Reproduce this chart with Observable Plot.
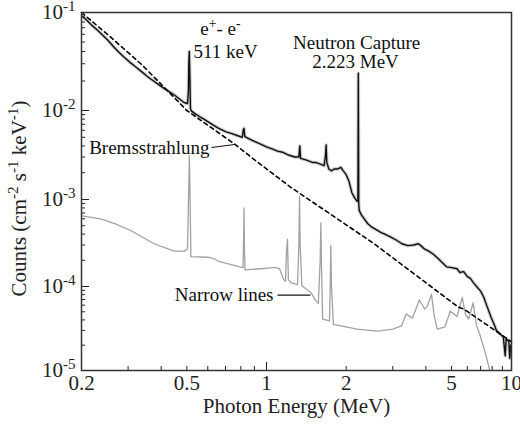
<!DOCTYPE html>
<html><head><meta charset="utf-8">
<script src="https://cdn.jsdelivr.net/npm/d3@7"></script>
<script src="https://cdn.jsdelivr.net/npm/@observablehq/plot@0.6"></script>
<style>
body{margin:0;background:#fff;}
#chart svg{display:block;}
#chart svg, #chart svg text {font-family: "Liberation Serif", "Times New Roman", "DejaVu Serif", serif !important;}
</style></head><body><div id="chart"></div>
<script>
// Observed spectrum (upper, black): [energy MeV, counts]
const observed = [
[0.2,0.093],[0.21,0.083],[0.22,0.073],[0.23,0.066],[0.24,0.059],[0.25,0.053],[0.264,0.045],[0.275,0.040],[0.29,0.035],[0.305,0.031],[0.32,0.028],[0.34,0.0245],[0.355,0.0222],[0.37,0.0205],[0.39,0.0185],[0.41,0.0168],[0.43,0.0155],[0.45,0.0143],[0.474,0.0128],[0.49,0.0120],[0.503,0.0118],[0.507,0.016],[0.509,0.032],[0.511,0.040],[0.513,0.024],[0.516,0.0105],[0.52,0.0099],[0.54,0.0091],[0.56,0.0085],[0.58,0.0080],[0.6,0.0075],[0.632,0.0068],[0.66,0.0063],[0.7,0.0058],[0.74,0.0055],[0.78,0.0052],[0.81,0.0050],[0.818,0.0061],[0.822,0.0063],[0.828,0.0051],[0.86,0.0048],[0.9,0.0045],[0.95,0.0042],[1.0,0.0039],[1.05,0.0037],[1.1,0.0035],[1.15,0.0034],[1.2,0.0032],[1.236,0.0031],[1.28,0.0030],[1.325,0.0030],[1.336,0.0040],[1.345,0.0029],[1.4,0.0028],[1.45,0.0027],[1.5,0.0026],[1.54,0.0026],[1.6,0.0025],[1.65,0.0024],[1.67,0.0031],[1.68,0.0041],[1.69,0.0026],[1.72,0.0022],[1.76,0.0021],[1.8,0.0022],[1.85,0.0022],[1.91,0.0023],[1.95,0.0021],[2.0,0.0019],[2.05,0.0016],[2.1,0.0012],[2.15,0.00105],[2.2,0.00095],[2.215,0.00098],[2.223,0.024],[2.231,0.0009],[2.24,0.00075],[2.28,0.00067],[2.34,0.0006],[2.41,0.00053],[2.5,0.00048],[2.6,0.00045],[2.7,0.00042],[2.8,0.00040],[2.95,0.00037],[3.1,0.00034],[3.25,0.00031],[3.42,0.000295],[3.6,0.0003],[3.75,0.00031],[3.83,0.000295],[3.95,0.00027],[4.1,0.000255],[4.27,0.000235],[4.45,0.00021],[4.6,0.00019],[4.8,0.000168],[5.0,0.000165],[5.33,0.00016],[5.5,0.000145],[5.76,0.000148],[6.0,0.00013],[6.2,0.000125],[6.45,0.00011],[6.68,0.0001],[7.0,8.8e-5],[7.25,7.5e-5],[7.5,6e-5],[7.9,4.3e-5],[8.2,3.5e-5],[8.4,3.0e-5],[8.8,2.7e-5],[9.1,2.5e-5],[9.3,1.5e-5],[9.4,2.4e-5],[9.7,2.2e-5],[9.8,1.4e-5],[9.9,2.0e-5]
];
// Narrow-line spectrum (lower, grey)
const narrowLines = [
[0.2,6.5e-4],[0.236,6.0e-4],[0.27,5.2e-4],[0.307,4.4e-4],[0.376,3.1e-4],[0.448,2.55e-4],[0.49,2.55e-4],[0.503,2.7e-4],[0.508,0.0012],[0.511,0.0031],[0.514,0.0012],[0.518,2.2e-4],[0.6,2.17e-4],[0.63,2.1e-4],[0.66,1.95e-4],[0.8,1.67e-4],[0.815,1.65e-4],[0.82,4e-4],[0.822,8e-4],[0.826,2.5e-4],[0.83,1.55e-4],[1.0,1.62e-4],[1.07,1.66e-4],[1.12,1.6e-4],[1.16,1.2e-4],[1.18,1.15e-4],[1.19,2.5e-4],[1.2,3.5e-4],[1.21,1.2e-4],[1.24,1.1e-4],[1.31,1.05e-4],[1.325,3e-4],[1.333,1.08e-3],[1.34,3e-4],[1.36,1.02e-4],[1.47,8.5e-5],[1.54,6.7e-5],[1.57,6.3e-5],[1.595,2e-4],[1.605,5.4e-4],[1.615,1.5e-4],[1.63,4.1e-5],[1.73,3.9e-5],[1.745,1.5e-4],[1.75,2.95e-4],[1.76,1e-4],[1.79,3.55e-5],[2.2,3.1e-5],[2.63,2.95e-5],[3.0,3.1e-5],[3.24,3.4e-5],[3.37,4.7e-5],[3.56,4.2e-5],[3.78,6.9e-5],[3.96,5.4e-5],[4.05,5.8e-5],[4.2,8.1e-5],[4.3,4.5e-5],[4.42,3.1e-5],[4.72,3.3e-5],[4.95,5.1e-5],[5.33,4.4e-5],[5.66,7.4e-5],[5.87,4.7e-5],[6.1,4.1e-5],[6.42,6.4e-5],[6.68,3.4e-5],[6.93,2.7e-5],[7.4,1.6e-5],[7.78,1.0e-5],[7.95,7e-6]
];
// Bremsstrahlung model (dashed)
const bremsstrahlung = [
[0.2,0.1],[0.258,0.056],[0.335,0.030],[0.422,0.016],[0.5,0.0100],[0.755,0.00423],[0.925,0.00263],[1.236,0.00137],[2.55,0.00031],[5.4,5.7e-5],[5.76,5.4e-5],[10,2.2e-5]
];
const xLabelTicks = [0.2, 0.5, 1, 2, 5, 10];
const xMinorTicks = [0.3, 0.4, 0.5, 0.6, 0.7, 0.8, 0.9, 2, 3, 4, 5, 6, 7, 8, 9];
const xMajorTicks = [1];
const yDecades = [1e-5, 1e-4, 1e-3, 1e-2, 1e-1];
const yMinorTicks = yDecades.slice(0, 4).flatMap(d => [2,3,4,5,6,7,8,9].map(k => k * d));
const peakLabels = [
  {x: 0.67, y: 0.068, text: "e^{+}- e^{-}"},
  {x: 0.70, y: 0.040, text: "511 keV"},
  {x: 2.19, y: 0.0494, text: "Neutron Capture"},
  {x: 2.17, y: 0.0316, text: "2.223 MeV"}
];
const componentLabels = [
  {x: 0.609, y: 0.00384, text: "Bremsstrahlung"},
  {x: 1.063, y: 7.9e-5, text: "Narrow lines"}
];
const leaders = [
  {x1: 0.62, y1: 0.00384, x2: 0.757, y2: 0.00415},
  {x1: 1.10, y1: 7.9e-5, x2: 1.466, y2: 7.9e-5}
];

const rows = a => a.map(([e, c]) => ({e, c}));
const serif = "Liberation Serif, Times New Roman, DejaVu Serif, serif";

const chart = Plot.plot({
  width: 520, height: 424,
  marginLeft: 81, marginRight: 9, marginTop: 12, marginBottom: 54,
  style: {fontFamily: serif, fontSize: "21px", color: "#222", background: "#fff"},
  x: {type: "log", domain: [0.2, 5, 10], range: [81, 451, 511]},
  y: {type: "log", domain: [1e-5, 1e-4, 1e-3, 1e-2, 1e-1], range: [370, 286, 199, 110, 12]},
  marks: [
    Plot.line(rows(narrowLines), {x: "e", y: "c", stroke: "#a2a2a2", strokeWidth: 1.3, clip: true}),
    Plot.line(rows(observed), {x: "e", y: "c", stroke: "#555", strokeWidth: 3.5, strokeOpacity: 0.3, clip: true}),
    Plot.line(rows(observed), {x: "e", y: "c", stroke: "#111", strokeWidth: 1.4, clip: true}),
    Plot.line(rows(bremsstrahlung), {x: "e", y: "c", stroke: "#000", strokeWidth: 1.6, strokeDasharray: "4,3.5"}),
    Plot.link(leaders, {x1: "x1", y1: "y1", x2: "x2", y2: "y2", stroke: "#111", strokeWidth: 1.2}),
    Plot.text(peakLabels, {x: "x", y: "y", text: "text", textAnchor: "middle", fontSize: 19, fill: "#111"}),
    Plot.text(componentLabels, {x: "x", y: "y", text: "text", textAnchor: "end", fontSize: 19, fill: "#111"}),
    Plot.axisX({ticks: xMinorTicks, tickSize: -4, tickFormat: () => "", label: null}),
    Plot.axisX({ticks: xMajorTicks, tickSize: -8, tickFormat: () => "", label: null}),
    Plot.axisX({ticks: xLabelTicks, tickSize: 0, tickPadding: 5, tickFormat: d => String(d),
      label: "Photon Energy (MeV)", labelAnchor: "center", labelArrow: "none", labelOffset: 42}),
    Plot.axisY({ticks: yMinorTicks, tickSize: -4, tickFormat: () => "", label: null}),
    Plot.axisY({ticks: yDecades, tickSize: -8, tickPadding: 14, tickFormat: d => `10^{${Math.round(Math.log10(d))}}`,
      label: "Counts (cm^{-2} s^{-1} keV^{-1})", labelAnchor: "center", labelArrow: "none", labelOffset: 70}),
    Plot.frame({stroke: "#333", strokeWidth: 1.5})
  ]
});

function supify(root) {
  root.querySelectorAll("text, tspan").forEach(el => {
    if (el.children.length) return;
    const s = el.textContent;
    if (!s.includes("^{")) return;
    el.textContent = "";
    const re = /\^\{([^}]*)\}/g;
    let last = 0, m;
    const ns = "http://www.w3.org/2000/svg";
    const add = (txt, sup) => {
      const t = document.createElementNS(ns, "tspan");
      t.textContent = txt;
      if (sup) { t.setAttribute("baseline-shift", "super"); t.setAttribute("font-size", "72%"); }
      el.appendChild(t);
    };
    while ((m = re.exec(s))) {
      if (m.index > last) add(s.slice(last, m.index), false);
      add(m[1], true);
      last = re.lastIndex;
    }
    if (last < s.length) add(s.slice(last), false);
  });
}
supify(chart);
chart.querySelectorAll("text").forEach(t => {
  t.setAttribute("font-family", serif);
  if (t.textContent.startsWith("Counts")) t.setAttribute("dx", "-7");
});
document.getElementById("chart").appendChild(chart);
</script></body></html>
